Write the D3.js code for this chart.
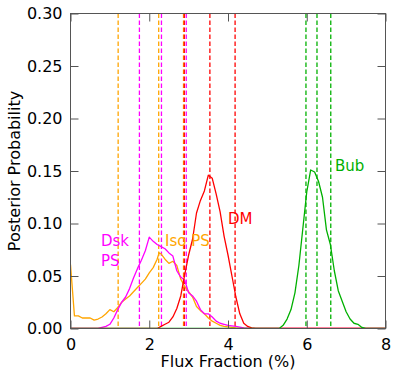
<!DOCTYPE html>
<html><head><meta charset="utf-8">
<script src="https://cdn.jsdelivr.net/npm/d3@7"></script>
<style>
html,body{margin:0;padding:0;background:#fff;}
svg{display:block;font-family:"DejaVu Sans",sans-serif;}
</style></head>
<body>
<svg id="c" width="398" height="378"></svg>
<script>
// x ticks / y ticks
const xTicks = [0, 2, 4, 6, 8];
const yTicks = [0, 0.05, 0.10, 0.15, 0.20, 0.25, 0.30];

// posterior curves: [flux fraction %, probability]
const isoPS = [[0,0.061],[0.1,0.012],[0.2,0.012],[0.3,0.010],[0.4,0.010],[0.5,0.010],[0.6,0.008],[0.7,0.009],[0.8,0.011],[0.9,0.014],[1.0,0.018],[1.1,0.016],[1.2,0.020],[1.3,0.025],[1.4,0.028],[1.5,0.031],[1.6,0.035],[1.7,0.039],[1.8,0.043],[1.9,0.047],[2.0,0.053],[2.1,0.058],[2.2,0.066],[2.25,0.072],[2.3,0.071],[2.4,0.066],[2.5,0.062],[2.6,0.064],[2.7,0.060],[2.8,0.047],[2.9,0.040],[3.0,0.035],[3.1,0.030],[3.2,0.021],[3.3,0.017],[3.4,0.014],[3.5,0.010],[3.6,0.007],[3.7,0.005],[3.8,0.003],[3.9,0.002],[4.0,0.0015],[4.2,0.0005],[4.5,0],[8,0]];
const dskPS = [[0,0],[0.7,0],[0.8,0.001],[0.9,0.002],[1.0,0.004],[1.1,0.010],[1.2,0.018],[1.3,0.025],[1.4,0.030],[1.5,0.038],[1.6,0.048],[1.7,0.057],[1.8,0.065],[1.9,0.074],[2.0,0.087],[2.1,0.083],[2.2,0.080],[2.3,0.078],[2.4,0.076],[2.5,0.072],[2.6,0.069],[2.7,0.055],[2.8,0.049],[2.9,0.046],[3.0,0.034],[3.1,0.031],[3.2,0.026],[3.3,0.018],[3.4,0.014],[3.5,0.014],[3.6,0.011],[3.7,0.007],[3.8,0.005],[3.9,0.004],[4.0,0.003],[4.2,0.002],[4.4,0.0005],[4.6,0],[8,0]];
const dm = [[0,0],[2.2,0],[2.3,0.002],[2.4,0.004],[2.5,0.006],[2.6,0.011],[2.7,0.019],[2.8,0.031],[2.9,0.051],[3.0,0.070],[3.1,0.085],[3.2,0.110],[3.3,0.122],[3.4,0.131],[3.5,0.146],[3.6,0.143],[3.7,0.128],[3.8,0.111],[3.9,0.088],[4.0,0.070],[4.1,0.050],[4.2,0.030],[4.3,0.014],[4.4,0.005],[4.5,0.002],[4.6,0.0005],[4.7,0],[8,0]];
const bub = [[0,0],[5.3,0],[5.4,0.003],[5.5,0.009],[5.6,0.018],[5.7,0.034],[5.8,0.060],[5.9,0.095],[6.0,0.130],[6.1,0.151],[6.2,0.149],[6.3,0.140],[6.4,0.125],[6.5,0.094],[6.6,0.080],[6.7,0.055],[6.8,0.036],[6.9,0.026],[7.0,0.016],[7.1,0.009],[7.2,0.005],[7.3,0.004],[7.4,0.001],[7.5,0],[8,0]];

// percentile lines (16th, 50th, 84th)
const isoLines = [1.21, 2.24, 2.87];
const dskLines = [1.75, 2.31, 2.94];
const dmLines = [2.89, 3.54, 4.18];
const bubLines = [5.98, 6.26, 6.61];

const seriesNames = ["Iso PS", "Dsk PS", "DM", "Bub"];
const seriesColors = ["#FFA500", "#FF00FF", "#FF0000", "#00B000"];

const svg = d3.select("#c");
const L = 70.5, R = 385.5, T = 13.5, B = 328.5;
const x = d3.scaleLinear().domain([0, 8]).range([L, R]);
const y = d3.scaleLinear().domain([0, 0.30]).range([B, T]);

const clipId = "clipP";
svg.append("clipPath").attr("id", clipId).append("rect")
  .attr("x", L).attr("y", T).attr("width", R - L).attr("height", B - T);

const plot = svg.append("g").attr("clip-path", `url(#${clipId})`);

// dashed vertical lines
const lineSets = [isoLines, dskLines, dmLines, bubLines];
lineSets.forEach((arr, i) => {
  plot.selectAll(null).data(arr).enter().append("line")
    .attr("x1", d => x(d)).attr("x2", d => x(d))
    .attr("y1", T).attr("y2", B)
    .attr("stroke", seriesColors[i]).attr("stroke-width", 1.3)
    .attr("stroke-dasharray", "4.5,2.5");
});

// curves
const line = d3.line().x(d => x(d[0])).y(d => y(d[1]));
const curves = [isoPS, dskPS, dm, bub];
curves.forEach((c, i) => {
  plot.append("path").datum(c).attr("d", line)
    .attr("fill", "none").attr("stroke", seriesColors[i]).attr("stroke-width", 1.3)
    .attr("stroke-linejoin", "round");
});

// axes (inward ticks on all sides)
const frameColor = "#555";
const tickLen = 8;
const axB = svg.append("g").attr("transform", `translate(0,${B})`)
  .call(d3.axisBottom(x).tickValues(xTicks).tickSizeInner(-tickLen).tickSizeOuter(0).tickPadding(10).tickFormat(d3.format("d")));
const axT = svg.append("g").attr("transform", `translate(0,${T})`)
  .call(d3.axisTop(x).tickValues(xTicks).tickSizeInner(-tickLen).tickSizeOuter(0).tickFormat(""));
const axL = svg.append("g").attr("transform", `translate(${L},0)`)
  .call(d3.axisLeft(y).tickValues(yTicks).tickSizeInner(-tickLen).tickSizeOuter(0).tickPadding(8).tickFormat(d3.format(".2f")));
const axR = svg.append("g").attr("transform", `translate(${R},0)`)
  .call(d3.axisRight(y).tickValues(yTicks).tickSizeInner(-tickLen).tickSizeOuter(0).tickFormat(""));
[axB, axT, axL, axR].forEach(a => {
  a.select(".domain").remove();
  a.selectAll(".tick line").attr("stroke", frameColor).attr("stroke-width", 1);
  a.selectAll("text").attr("fill", "#000").style("font-size", "16px").style("font-family", "DejaVu Sans");
});
axB.selectAll("text").attr("dy", "0.71em");

svg.append("rect").attr("x", L).attr("y", T).attr("width", R - L).attr("height", B - T)
  .attr("fill", "none").attr("stroke", frameColor).attr("stroke-width", 1);

// axis titles
svg.append("text").attr("x", (L + R) / 2).attr("y", 367).attr("text-anchor", "middle")
  .style("font-size", "16px").text("Flux Fraction (%)");
svg.append("text").attr("transform", `translate(20,${(T + B) / 2}) rotate(-90)`).attr("text-anchor", "middle")
  .style("font-size", "16px").text("Posterior Probability");

// series labels
const labels = [
  {t: "Dsk", x: 101, y: 245.5, c: 1},
  {t: "PS", x: 101, y: 265.5, c: 1},
  {t: "Iso PS", x: 165, y: 245.5, c: 0},
  {t: "DM", x: 228, y: 224, c: 2},
  {t: "Bub", x: 335, y: 171, c: 3}
];
svg.selectAll(null).data(labels).enter().append("text")
  .attr("x", d => d.x).attr("y", d => d.y)
  .attr("fill", d => seriesColors[d.c])
  .style("font-size", "15px").text(d => d.t);
</script>
</body></html>
